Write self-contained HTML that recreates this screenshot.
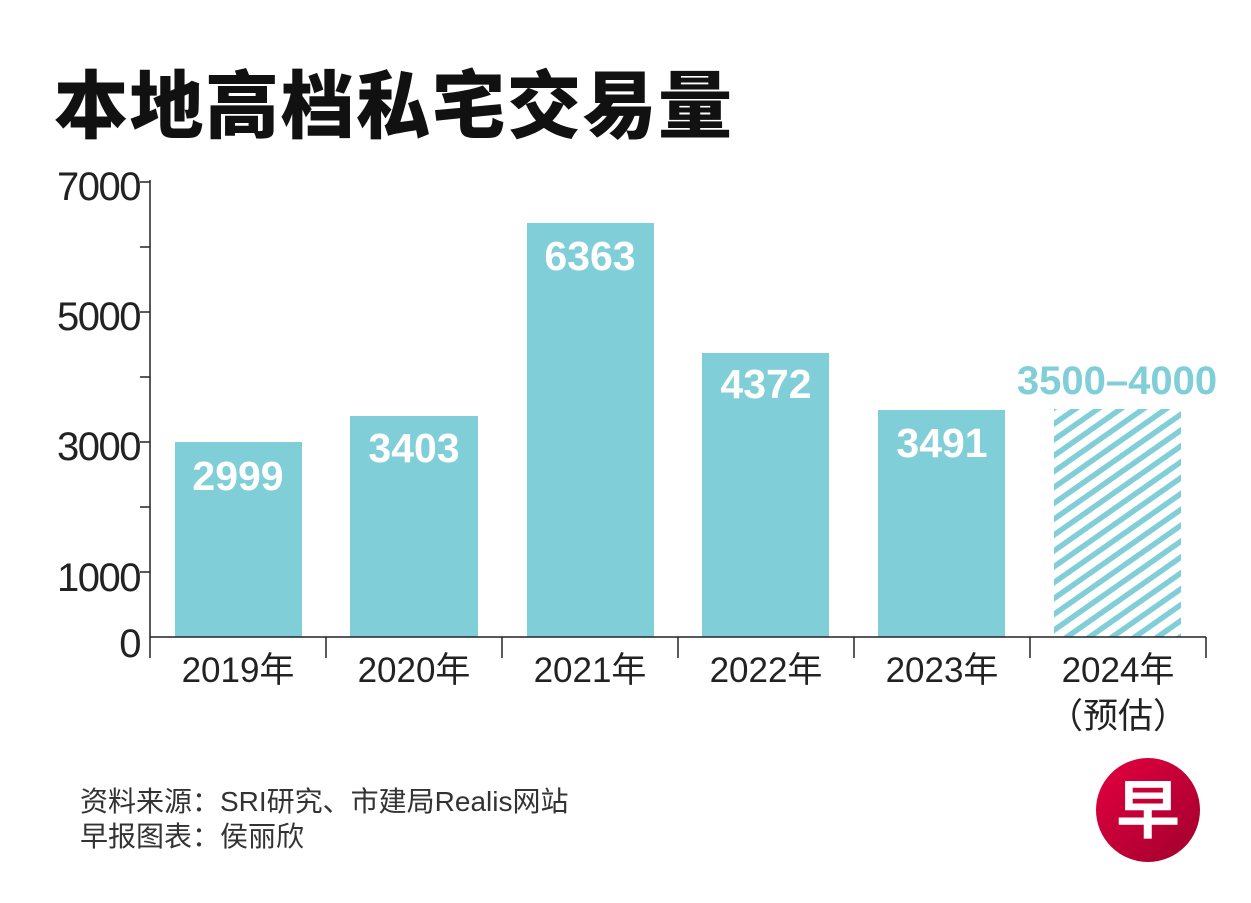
<!DOCTYPE html>
<html><head><meta charset="utf-8"><style>
body{margin:0;background:#fff;}
svg{display:block}
text{font-family:"Liberation Sans","Noto Sans CJK SC",sans-serif;}
</style></head><body>
<svg width="1251" height="903" viewBox="0 0 1251 903" xmlns="http://www.w3.org/2000/svg">
<defs>
<pattern id="h" patternUnits="userSpaceOnUse" width="13" height="13" patternTransform="rotate(-35)">
<rect width="13" height="5.5" fill="#80ced7"/>
</pattern>
<linearGradient id="lg" x1="0" y1="0" x2="1" y2="1"><stop offset="0" stop-color="#e5003f"/><stop offset="1" stop-color="#a0002e"/></linearGradient>
</defs>
<text x="54" y="132" font-size="74" font-weight="900" fill="#111" letter-spacing="1.5" font-family="'Noto Sans CJK SC',sans-serif">本地高档私宅交易量</text>
<g fill="#80ced7">
<rect x="175" y="442" width="127" height="195"/>
<rect x="350" y="416" width="128" height="221"/>
<rect x="527" y="223" width="127" height="414"/>
<rect x="702" y="353" width="127" height="284"/>
<rect x="878" y="410" width="127" height="227"/>
</g>
<rect x="1054" y="409" width="127" height="228" fill="url(#h)"/>
<g stroke="#222" stroke-width="1.5" fill="none">
<line x1="150" y1="180" x2="150" y2="658"/>
<line x1="150" y1="637" x2="1206" y2="637"/>
<line x1="140" y1="182" x2="150" y2="182"/>
<line x1="140" y1="247" x2="150" y2="247"/>
<line x1="140" y1="312" x2="150" y2="312"/>
<line x1="140" y1="377" x2="150" y2="377"/>
<line x1="140" y1="442" x2="150" y2="442"/>
<line x1="140" y1="507" x2="150" y2="507"/>
<line x1="140" y1="572" x2="150" y2="572"/>
<line x1="326" y1="637" x2="326" y2="658"/>
<line x1="502" y1="637" x2="502" y2="658"/>
<line x1="678" y1="637" x2="678" y2="658"/>
<line x1="854" y1="637" x2="854" y2="658"/>
<line x1="1030" y1="637" x2="1030" y2="658"/>
<line x1="1206" y1="637" x2="1206" y2="658"/>
</g>
<g font-size="40" fill="#222" text-anchor="end" letter-spacing="-1.5">
<text x="140" y="200">7000</text>
<text x="140" y="330">5000</text>
<text x="140" y="460">3000</text>
<text x="140" y="591">1000</text>
<text x="140" y="657">0</text>
</g>
<g font-size="35" fill="#222" text-anchor="middle">
<text x="238" y="682">2019年</text>
<text x="414" y="682">2020年</text>
<text x="590" y="682">2021年</text>
<text x="766" y="682">2022年</text>
<text x="942" y="682">2023年</text>
<text x="1118" y="682">2024年</text>
<text x="1118" y="728">（预估）</text>
</g>
<g font-size="41" font-weight="bold" fill="#fff" text-anchor="middle">
<text x="238" y="490">2999</text>
<text x="414" y="462">3403</text>
<text x="590" y="270">6363</text>
<text x="766" y="398">4372</text>
<text x="942" y="457">3491</text>
</g>
<text x="1117" y="394" font-size="40" font-weight="bold" fill="#80ced7" text-anchor="middle">3500–4000</text>
<g font-size="28" fill="#333">
<text x="80" y="811">资料来源：SRI研究、市建局Realis网站</text>
<text x="80" y="846">早报图表：侯丽欣</text>
</g>
<circle cx="1148" cy="810" r="52" fill="url(#lg)"/>
<text x="1148" y="833" font-size="64" font-weight="bold" fill="#fff" text-anchor="middle" font-family="'Noto Serif CJK SC',serif">早</text>
</svg>
</body></html>
